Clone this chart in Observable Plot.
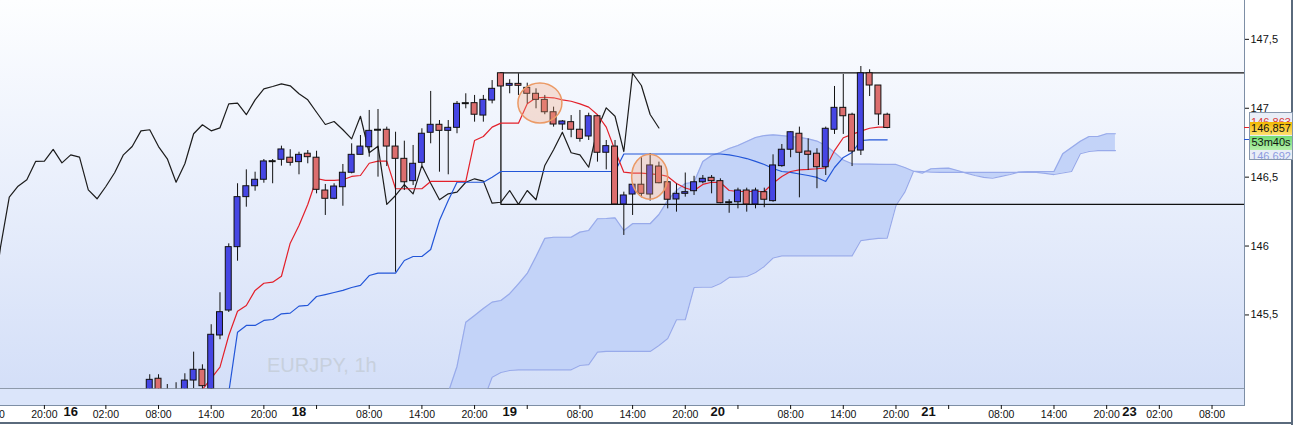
<!DOCTYPE html>
<html lang="en">
<head>
    <meta charset="UTF-8">
    <title>EURJPY, 1h</title>
    <style>
        body {
            margin: 0;
            background: #fff;
            font-family: "Liberation Sans", Arial, sans-serif;
        }
        #chart {
            position: relative;
            width: 1295px;
            height: 425px;
            overflow: hidden;
        }
        #chart svg { position: absolute; left: 0; top: 0; }
        .bg { position: absolute; }
        #panel { left: 0; top: 0; width: 1244px; height: 388px; background: linear-gradient(#fdfeff, #d4dff8); }
        #subpanel { left: 0; top: 388px; width: 1244px; height: 16px; background: #dbe5fa; border-top: 1px solid #8e9aab; border-bottom: 1px solid #7d8ea5; }
        #edge { left: 1244px; top: 0; width: 1px; height: 406px; background: #7d8ea5; }
        #frameR { left: 1291px; top: 0; width: 2px; height: 425px; background: #5a6a7c; }
        #frameB { left: 0; top: 422px; width: 1293px; height: 2px; background: #5a6a7c; }
        #watermark { left: 267px; top: 355px; font-size: 20px; line-height: 20px; color: #c7d0dd; }
        #prices {
            position: absolute; left: 1249px; top: 112px; width: 42px; height: 46px;
            border: 1px solid #8797ad; background: #e9eef7; font-size: 11px; overflow: hidden;
        }
        #prices div { position: absolute; left: 0; width: 42px; text-align: center; line-height: 13px; }
        #pTenkan { top: 3px; color: #d83a3a; }
        #pLast { top: 9px; height: 13px; background: linear-gradient(#f2b800, #ffe070); color: #111; }
        #pTimer { top: 23px; height: 14px; line-height: 14px; background: linear-gradient(#74dc74, #b4f0a8); color: #111; }
        #pKijun { top: 37px; color: #8d9be0; }
        .mark { position: absolute; left: 1244px; width: 5px; height: 1px; }
    </style>
    <script src="https://cdn.jsdelivr.net/npm/d3@7"></script>
    <script src="https://cdn.jsdelivr.net/npm/@observablehq/plot@0.6"></script>
</head>
<body>
<div id="chart">
    <div class="bg" id="panel"></div>
    <div class="bg" id="subpanel"></div>
    <div class="bg" id="watermark">EURJPY, 1h</div>
</div>

<script>
    // hourly bars, numbered from the left edge of the chart
    const firstBar = 17;
    const opens = [
        144.915, 145.037, 144.923, 144.952, 144.937, 145.024, 145.102, 144.962, 145.351, 145.532,
        145.992, 146.355, 146.434, 146.481, 146.616, 146.626, 146.641, 146.609, 146.670, 146.641,
        146.403, 146.343, 146.427, 146.532, 146.662, 146.717, 146.844, 146.844, 146.722, 146.633,
        146.471, 146.604, 146.822, 146.880, 146.836, 146.858, 147.037, 147.037, 146.947, 147.056,
        147.254, 147.163, 147.177, 147.148, 147.105, 147.061, 146.971, 146.882, 146.899, 146.844,
        146.795, 146.942, 146.677, 146.722, 146.302, 146.374, 146.445, 146.374, 146.577, 146.463,
        146.338, 146.379, 146.398, 146.463, 146.495, 146.471, 146.318, 146.318, 146.403, 146.302,
        146.391, 146.326, 146.580, 146.699, 146.815, 146.686, 146.670, 146.572, 146.844, 147.003,
        146.953, 146.693, 147.254, 147.165, 146.953
    ];
    const highs = [
        145.066, 145.066, 144.995, 145.008, 145.073, 145.230, 145.138, 145.429, 145.661, 146.016,
        146.452, 146.553, 146.536, 146.628, 146.628, 146.725, 146.699, 146.681, 146.693, 146.688,
        146.447, 146.452, 146.592, 146.742, 146.802, 146.984, 146.991, 146.863, 146.826, 146.761,
        146.730, 146.851, 147.122, 146.911, 146.911, 147.049, 147.105, 147.093, 147.093, 147.201,
        147.257, 147.207, 147.250, 147.182, 147.141, 147.093, 147.008, 146.911, 146.947, 146.984,
        146.964, 146.947, 146.766, 146.766, 146.391, 146.445, 146.645, 146.670, 146.609, 146.463,
        146.450, 146.530, 146.506, 146.512, 146.512, 146.488, 146.336, 146.420, 146.420, 146.420,
        146.420, 146.662, 146.737, 146.830, 146.863, 146.778, 146.706, 146.863, 147.158, 147.245,
        146.964, 147.303, 147.279, 147.165, 146.964
    ];
    const lows = [
        144.879, 144.894, 144.879, 144.879, 144.908, 144.966, 144.952, 144.937, 145.320, 145.518,
        145.890, 146.282, 146.398, 146.456, 146.452, 146.580, 146.580, 146.517, 146.597, 146.379,
        146.222, 146.336, 146.289, 146.524, 146.662, 146.645, 146.500, 146.577, 145.810, 146.403,
        146.439, 146.585, 146.742, 146.536, 146.517, 146.815, 146.996, 146.899, 146.899, 147.032,
        147.158, 147.105, 147.093, 147.032, 146.996, 146.953, 146.863, 146.839, 146.786, 146.754,
        146.766, 146.609, 146.553, 146.302, 146.077, 146.222, 146.350, 146.326, 146.452, 146.270,
        146.246, 146.355, 146.367, 146.452, 146.379, 146.307, 146.238, 146.270, 146.246, 146.270,
        146.278, 146.318, 146.572, 146.641, 146.350, 146.548, 146.416, 146.512, 146.810, 146.810,
        146.577, 146.657, 147.085, 146.875, 146.851
    ];
    const closes = [
        145.029, 144.937, 144.952, 144.915, 145.024, 145.102, 144.983, 145.356, 145.520, 145.992,
        146.355, 146.434, 146.481, 146.614, 146.616, 146.701, 146.604, 146.662, 146.645, 146.408,
        146.343, 146.432, 146.532, 146.662, 146.722, 146.836, 146.844, 146.722, 146.633, 146.463,
        146.597, 146.815, 146.880, 146.836, 146.858, 147.032, 147.037, 146.953, 147.061, 147.141,
        147.158, 147.177, 147.163, 147.105, 147.061, 146.971, 146.882, 146.904, 146.844, 146.778,
        146.942, 146.677, 146.725, 146.302, 146.367, 146.445, 146.379, 146.585, 146.456, 146.336,
        146.379, 146.391, 146.463, 146.488, 146.471, 146.311, 146.318, 146.403, 146.302, 146.403,
        146.336, 146.585, 146.699, 146.826, 146.677, 146.662, 146.572, 146.851, 147.003, 146.942,
        146.686, 147.254, 147.165, 146.955, 146.857
    ];

    // ichimoku lines
    const tenkanStart = 23;
    const tenkan = [
        144.959, 145.039, 145.121, 145.351, 145.527, 145.569, 145.678, 145.730, 145.738, 145.781,
        146.021, 146.149, 146.302, 146.490, 146.476, 146.476, 146.481, 146.505, 146.512, 146.601,
        146.616, 146.616, 146.416, 146.416, 146.416, 146.416, 146.469, 146.469, 146.469, 146.469,
        146.469, 146.766, 146.795, 146.863, 146.892, 146.892, 146.892, 147.032, 147.076, 147.080,
        147.076, 147.061, 147.051, 147.032, 147.008, 146.953, 146.863, 146.693, 146.536, 146.529,
        146.529, 146.524, 146.519, 146.505, 146.454, 146.421, 146.403, 146.447, 146.463, 146.461,
        146.403, 146.396, 146.396, 146.396, 146.396, 146.456, 146.505, 146.541, 146.553, 146.556,
        146.561, 146.568, 146.693, 146.786, 146.810, 146.834, 146.855, 146.863, 146.863
    ];
    const kijunStart = 26;
    const kijun = [
        144.937, 145.375, 145.424, 145.424, 145.460, 145.467, 145.508, 145.513, 145.564, 145.569,
        145.634, 145.648, 145.663, 145.678, 145.699, 145.714, 145.786, 145.803, 145.803, 145.803,
        145.895, 145.924, 145.924, 145.975, 146.185, 146.331, 146.463, 146.463, 146.463, 146.463,
        146.500, 146.541, 146.541, 146.541, 146.541, 146.541, 146.541, 146.541, 146.541, 146.541,
        146.541, 146.541, 146.541, 146.541, 146.541, 146.668, 146.668, 146.668, 146.668, 146.668,
        146.668, 146.668, 146.668, 146.668, 146.668, 146.668, 146.668, 146.661, 146.650, 146.635,
        146.614, 146.592, 146.563, 146.541, 146.534, 146.523, 146.512, 146.498, 146.469, 146.570,
        146.643, 146.679, 146.766, 146.771, 146.771, 146.771
    ];
    const cloudStart = 51;
    const spanA = [
        144.937, 145.126, 145.447, 145.496, 145.547, 145.593, 145.605, 145.654, 145.726, 145.801,
        145.924, 146.055, 146.064, 146.064, 146.064, 146.101, 146.113, 146.198, 146.200, 146.205,
        146.113, 146.162, 146.162, 146.162, 146.229, 146.331, 146.403, 146.454, 146.463, 146.614,
        146.657, 146.679, 146.708, 146.730, 146.759, 146.788, 146.802, 146.807, 146.802, 146.795,
        146.788, 146.778, 146.762, 146.730, 146.679, 146.625, 146.597, 146.595, 146.595, 146.593,
        146.592, 146.592, 146.570, 146.543, 146.529, 146.561, 146.563, 146.565, 146.548, 146.529,
        146.512, 146.498, 146.492, 146.505, 146.519, 146.537, 146.541, 146.541, 146.541, 146.541,
        146.670, 146.715, 146.761, 146.795, 146.795, 146.815, 146.815
    ];
    const spanB = [
        144.879, 144.879, 144.879, 144.879, 144.879, 145.048, 145.082, 145.097, 145.102, 145.102,
        145.102, 145.102, 145.102, 145.102, 145.102, 145.133, 145.140, 145.230, 145.235, 145.235,
        145.235, 145.235, 145.235, 145.235, 145.278, 145.329, 145.465, 145.465, 145.699, 145.701,
        145.701, 145.728, 145.772, 145.775, 145.779, 145.808, 145.852, 145.913, 145.929, 145.929,
        145.929, 145.929, 145.929, 145.929, 145.929, 145.929, 145.929, 146.040, 146.048, 146.055,
        146.057, 146.294, 146.391, 146.543, 146.541, 146.537, 146.534, 146.534, 146.534, 146.534,
        146.534, 146.534, 146.534, 146.534, 146.534, 146.534, 146.534, 146.534, 146.527, 146.519,
        146.530, 146.541, 146.670, 146.686, 146.693, 146.693, 146.693
    ];
    const chikouShift = 26;

    // drawn range box
    const boxStart = 57;
    const boxHigh = 147.257;
    const boxLow = 146.302;

    // circled areas
    const noteBars = [61.5, 74];
    const notePrices = [147.035, 146.5];

    // axes
    const yMin = 144.964, yMax = 147.782, xMax = 141.7;
    const yTicks = [145.5, 146, 146.5, 147, 147.5];
    const hourTicks = [-1, 5, 12, 18, 24, 30, 36, 42, 48, 54, 60, 66, 72, 78, 84, 90, 96, 102, 108, 114, 120, 126, 132, 138];
    const hourLabels = ["14:00", "20:00", "02:00", "08:00", "14:00", "20:00", "", "08:00", "14:00", "20:00", "", "08:00",
        "14:00", "20:00", "", "08:00", "14:00", "20:00", "", "08:00", "14:00", "20:00", "02:00", "08:00"];
    const dayPos = [8, 34, 58, 81.7, 105.7, 128.6];
    const dayLabels = ["16", "18", "19", "20", "21", "23"];

    const candles = opens.map((o, k) => ({
        i: firstBar + k, open: o, high: highs[k], low: lows[k], close: closes[k]
    }));
    const bodies = candles.filter(d => d.open !== d.close);
    const dojis = candles.filter(d => d.open === d.close);
    const chikou = candles
        .filter(d => d.i - chikouShift >= -1)
        .map(d => ({i: d.i - chikouShift, v: d.close}));
    const tenkanData = tenkan.map((v, k) => ({i: tenkanStart + k, v}));
    const kijunData = kijun.map((v, k) => ({i: kijunStart + k, v}));
    const cloud = spanA.map((a, k) => ({i: cloudStart + k, a, b: spanB[k]}));
    const hourText = new Map(hourTicks.map((t, k) => [t, hourLabels[k]]));

    const plot = Plot.plot({
        width: 1295,
        height: 425,
        marginLeft: 0,
        marginRight: 51,
        marginTop: 0,
        marginBottom: 36.7,
        style: {background: "transparent", fontFamily: "'Liberation Sans', Arial, sans-serif", color: "#111", overflow: "visible"},
        x: {domain: [0, xMax]},
        y: {domain: [yMin, yMax]},
        marks: [
            Plot.areaY(cloud, {x: "i", y1: "b", y2: "a", fill: "#c3d3f8", clip: true}),
            Plot.line(cloud, {x: "i", y: "a", stroke: "#98aaea", strokeWidth: 1.2, clip: true}),
            Plot.line(cloud, {x: "i", y: "b", stroke: "#98aaea", strokeWidth: 1.2, clip: true}),
            Plot.ruleY([boxHigh, boxLow], {x1: boxStart, x2: xMax, stroke: "#111", strokeWidth: 1.3}),
            Plot.ruleX([boxStart], {y1: boxLow, y2: boxHigh, stroke: "#111", strokeWidth: 1.3}),
            Plot.line(chikou, {x: "i", y: "v", stroke: "#1c1c1c", strokeWidth: 1.2, clip: true}),
            Plot.line(kijunData, {x: "i", y: "v", stroke: "#2356d8", strokeWidth: 1.2, clip: true}),
            Plot.line(tenkanData, {x: "i", y: "v", stroke: "#e3202a", strokeWidth: 1.2, clip: true}),
            Plot.ruleX(candles, {x: "i", y1: "low", y2: "high", stroke: "#111", strokeWidth: 1, clip: true}),
            Plot.rect(bodies, {
                x1: d => d.i - 0.34, x2: d => d.i + 0.34, y1: "open", y2: "close",
                fill: d => d.close > d.open ? "#4646e4" : "#dc6e6e",
                stroke: "#111", strokeWidth: 1, clip: true
            }),
            Plot.ruleY(dojis, {y: "close", x1: d => d.i - 0.4, x2: d => d.i + 0.4, stroke: "#111", strokeWidth: 2, clip: true}),
            Plot.axisY({anchor: "right", ticks: yTicks, tickFormat: d => String(d).replace(".", ","),
                tickSize: 4, tickPadding: 2, fontSize: 11, label: null}),
            Plot.axisX({ticks: hourTicks, tickFormat: d => hourText.get(d), tickSize: 4, tickPadding: 1.5,
                fontSize: 10.5, dy: 16.7, label: null}),
            Plot.text(dayPos, {x: d => d, text: (d, k) => dayLabels[k], frameAnchor: "bottom", dy: 27,
                fontSize: 13, fontWeight: "bold"})
        ]
    });

    // circled areas, placed with the plot's own scales
    const sx = plot.scale("x"), sy = plot.scale("y");
    const noteSize = [[22, 20], [18, 22.5]];
    d3.select(plot).append("g")
        .selectAll("ellipse")
        .data(noteBars)
        .join("ellipse")
        .attr("cx", d => sx.apply(d))
        .attr("cy", (d, k) => sy.apply(notePrices[k]))
        .attr("rx", (d, k) => noteSize[k][0])
        .attr("ry", (d, k) => noteSize[k][1])
        .attr("fill", "#f4a27a")
        .attr("fill-opacity", 0.3)
        .attr("stroke", "#eb9a66")
        .attr("stroke-width", 1.5);

    const chart = document.getElementById("chart");
    chart.appendChild(plot);

    // frame lines and the price labels on the right
    chart.insertAdjacentHTML("beforeend", `
        <div class="bg" id="edge"></div>
        <div class="bg" id="frameR"></div>
        <div class="bg" id="frameB"></div>
        <div class="mark" style="top:127px;background:#e3202a"></div>
        <div class="mark" style="top:139px;background:#2356d8"></div>
        <div id="prices">
            <div id="pTenkan">146,863</div>
            <div id="pKijun">146,692</div>
            <div id="pLast">146,857</div>
            <div id="pTimer">53m40s</div>
        </div>`);
</script>
</body>
</html>
